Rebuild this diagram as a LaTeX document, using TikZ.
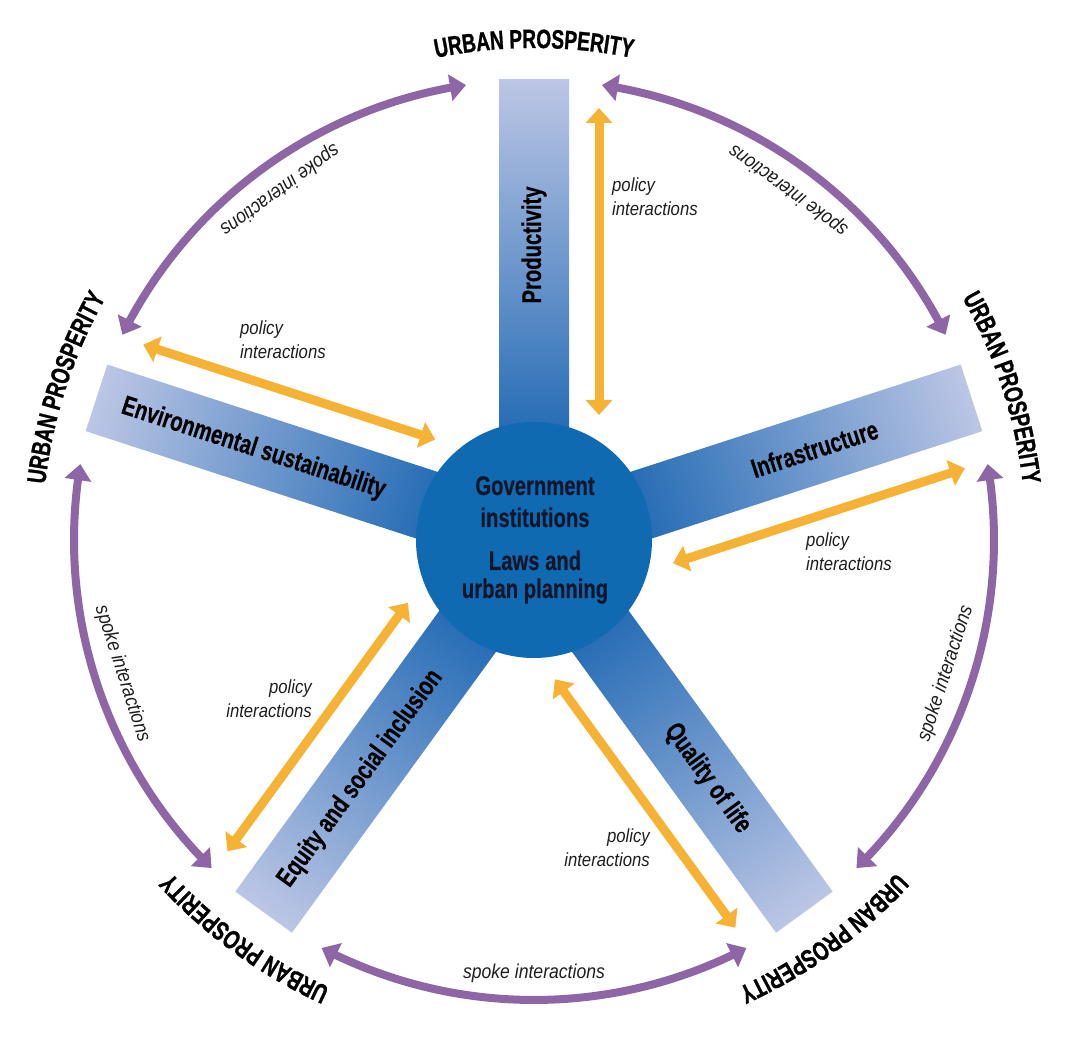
\documentclass[tikz,border=0pt]{standalone}
\usepackage{fontspec}
\setmainfont{Liberation Sans}
\newfontfamily\boldcond[FakeStretch=0.75,FakeBold=0.35]{Liberation Sans}
\newfontfamily\prospfont[FakeStretch=0.72,FakeBold=0.9]{Liberation Sans}
\newfontfamily\italcond[FakeStretch=0.88]{Liberation Sans}
\usetikzlibrary{arrows.meta,bending,decorations.text}
\definecolor{hubblue}{RGB}{16,106,178}
\definecolor{spokedark}{RGB}{34,106,180}
\definecolor{spokelight}{RGB}{188,198,229}
\definecolor{arcpurple}{RGB}{142,102,166}
\definecolor{polorange}{RGB}{246,178,52}
\definecolor{inktext}{RGB}{18,22,42}
\definecolor{softtext}{RGB}{30,30,30}
\begin{document}
\begin{tikzpicture}[x=1pt,y=1pt,
  spokelabel/.style={font=\boldcond\bfseries\fontsize{27}{32}\selectfont, text=black, inner sep=0pt},
  hubtext/.style={font=\boldcond\bfseries\fontsize{27}{32}\selectfont, text=inktext, inner sep=0pt, anchor=base},
  policytext/.style={font=\italcond\itshape\fontsize{19}{24}\selectfont, text=softtext, inner sep=0pt},
  spokenote/.style={font=\italcond\itshape\fontsize{20}{24}\selectfont, text=softtext, inner sep=0pt},
  policyarrow/.style={draw=polorange, line width=9pt, arrows={Triangle[width=26pt,length=15pt]-Triangle[width=26pt,length=15pt]}},
  spokearrow/.style={draw=arcpurple, line width=8pt, arrows={Triangle[width=26pt,length=16pt]-Triangle[width=26pt,length=16pt]}},
  prosptext/.style={decorate, decoration={text along path, text align=center,
      text={|\prospfont\bfseries\fontsize{26.5}{30}\selectfont\color{black}|URBAN PROSPERITY}}}
]
\useasboundingbox[fill=white] (-534,-503) rectangle (539,540);

% spokes
\foreach \t in {90,18,-54,-126,162}{
  \begin{scope}[transform canvas={rotate=\t}]
    \shade[left color=spokedark, right color=spokelight] (100,-35) rectangle (460,35);
  \end{scope}
}

% hub
\node[circle, fill=hubblue, minimum size=236pt, inner sep=0pt] (hub) at (0,0) {};
\node[hubtext] (hubA) at (1,45) {Government};
\node[hubtext] (hubB) at (1,13) {institutions};
\node[hubtext] (hubC) at (1,-30) {Laws and};
\node[hubtext] (hubD) at (1,-58) {urban planning};

% spoke labels
\node[spokelabel, rotate=90] (lprod) at (90:295) {Productivity};
\node[spokelabel, rotate=18] (linfra) at (18:295) {Infrastructure};
\node[spokelabel, rotate=-54] (lqual) at (-54:295) {Quality of life};
\node[spokelabel, rotate=54] (lequi) at (-126:295) {Equity and social inclusion};
\node[spokelabel, rotate=-18] (lenv) at (162:295) {Environmental sustainability};

% policy arrows
\foreach \t/\n in {90/a,18/b,-54/c,-126/d,162/e}{
  \begin{scope}[rotate=\t]
    \coordinate (pa\n) at (125,-65);
    \coordinate (pb\n) at (432,-65);
  \end{scope}
  \draw[policyarrow] (pa\n) -- (pb\n);
}

% policy texts
\node[policytext, align=left, anchor=west] (ptA) at (78,343) {policy\\interactions};
\node[policytext, align=left, anchor=west] (ptB) at (272,-11.5) {policy\\interactions};
\node[policytext, align=right, anchor=east] (ptC) at (116,-308) {policy\\interactions};
\node[policytext, align=right, anchor=east] (ptD) at (-222,-159) {policy\\interactions};
\node[policytext, align=left, anchor=west] (ptE) at (-294,200.5) {policy\\interactions};

% spoke interaction arcs
\foreach \c/\n in {126/a,54/b,-18/c,-90/d,198/e}{
  \coordinate (sa\n) at ({\c-27.5}:460);
  \draw[spokearrow] (sa\n) arc[start angle=\c-27.5, end angle=\c+27.5, radius=460];
  \node[spokenote, rotate=\c+90] (st\n) at (\c:433) {spoke interactions};
}

% URBAN PROSPERITY labels
\foreach \t in {90,18,-54,-126,162}{
  \path[prosptext] ({\t+25}:492) arc[start angle=\t+25, end angle=\t-25, radius=492];
}
\end{tikzpicture}
\end{document}
